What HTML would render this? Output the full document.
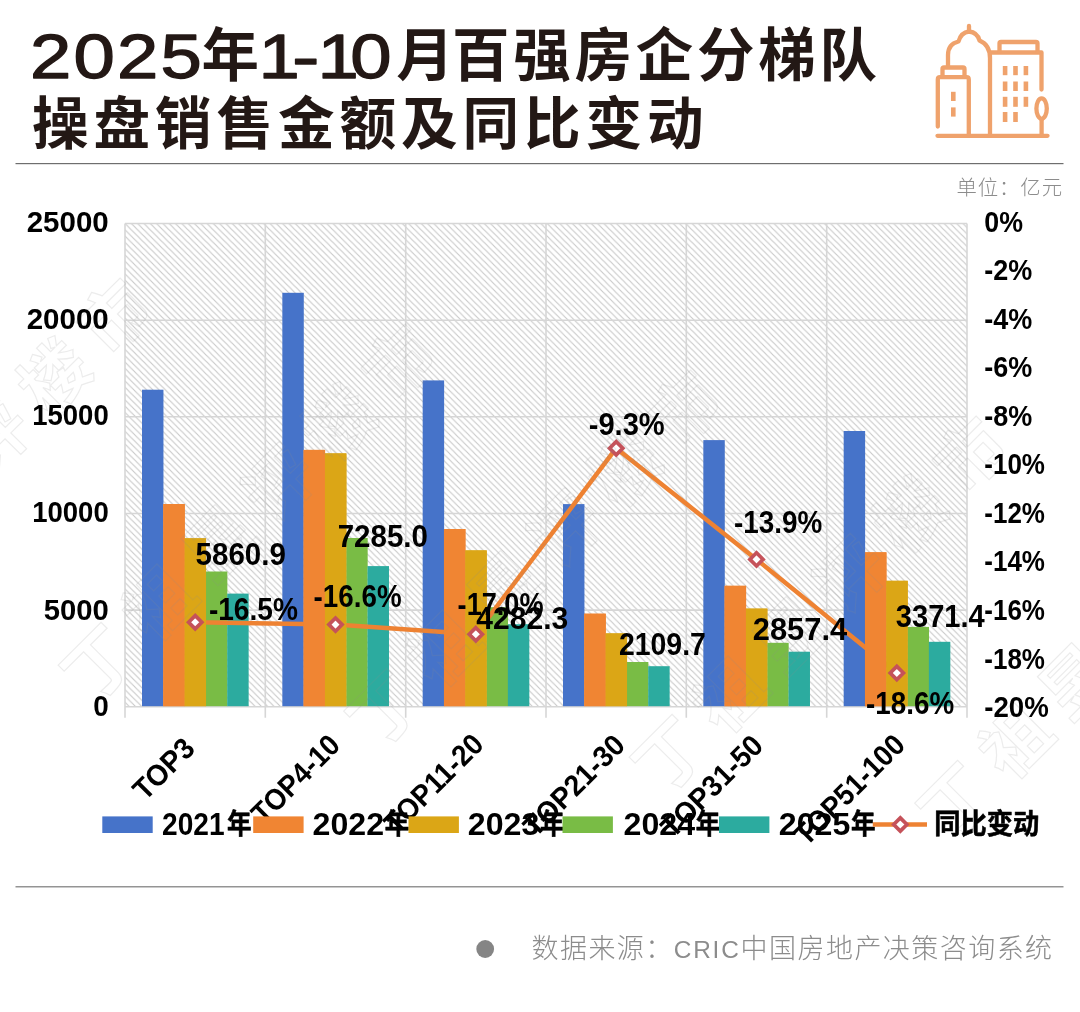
<!DOCTYPE html>
<html lang="zh-CN"><head><meta charset="utf-8"><title>2025年1-10月百强房企分梯队操盘销售金额及同比变动</title>
<style>html,body{margin:0;padding:0;background:#fff;}body{width:1080px;height:1012px;overflow:hidden;position:relative;font-family:"Liberation Sans", "Noto Sans CJK SC", sans-serif;}svg{position:absolute;left:0;top:0;display:block}
.ax{font-family:"Liberation Sans", "Noto Sans CJK SC", sans-serif;font-size:29.7px;fill:#000;font-weight:700}
.dl{font-family:"Liberation Sans", "Noto Sans CJK SC", sans-serif;font-size:31px;fill:#000;font-weight:700}
.ttl{font-family:"Liberation Sans", "Noto Sans CJK SC", sans-serif;fill:#231815;font-weight:700}
.tn{font-family:"Liberation Sans", "Noto Sans CJK SC", sans-serif;fill:#231815;font-weight:400;stroke:#231815;stroke-width:1.25px;stroke-linejoin:round}
.lg{font-family:"Liberation Sans", "Noto Sans CJK SC", sans-serif;fill:#000}
.gray{font-family:"Liberation Sans", "Noto Sans CJK SC", sans-serif;fill:#8c8c8c;font-weight:300}
</style></head><body>
<svg width="1080" height="1012" viewBox="0 0 1080 1012">
<defs>
<pattern id="hatch" width="6.3" height="6.3" patternUnits="userSpaceOnUse" patternTransform="translate(125,223.5)"><rect width="6.3" height="6.3" fill="#fff"/><path d="M-1.575,-1.575 L7.875,7.875 M-1.575,4.725 L1.575,7.875 M4.725,-1.575 L7.875,1.575" stroke="#c8c8c8" stroke-width="1.1" fill="none"/></pattern>
</defs>
<rect width="1080" height="1012" fill="#fff"/>
<g id="title">
<text class="tn" transform="translate(30.0,77.5) scale(1.170,1)" font-size="63.5" letter-spacing="1.90">2025</text>
<text class="ttl" x="201.5" y="76.0" font-size="57.5">年</text>
<text class="tn" transform="translate(258.5,77.5) scale(1.170,1)" font-size="63.5" letter-spacing="0.00">1</text>
<text class="tn" transform="translate(292.0,77.5) scale(1.300,1)" font-size="63.5" letter-spacing="0.00">-</text>
<text class="tn" transform="translate(317.5,77.5) scale(1.170,1)" font-size="63.5" letter-spacing="0.00">1</text>
<text class="tn" transform="translate(350.2,77.5) scale(1.170,1)" font-size="63.5" letter-spacing="0.00">0</text>
<text class="ttl" y="76.0" font-size="57.5" letter-spacing="3.75"><tspan x="396.3">月</tspan><tspan x="452.0">百强房企分梯队</tspan></text>
<text class="ttl" x="32" y="143.9" font-size="56.6" letter-spacing="4.9">操盘销售金额及同比变动</text>
</g>
<rect x="15.5" y="163" width="1048" height="1.2" fill="#6e6e6e"/>
<g id="icon" fill="none" stroke="#EFA26C" stroke-width="4.3" stroke-linecap="round" stroke-linejoin="round">
<path d="M937.5,135.8 H1047.5"/>
<path d="M937.8,126.5 V79.5 Q937.8,77.2 940,77.2 H966.5 Q968.8,77.2 968.8,79.5 V134"/>
<path d="M942.5,76.5 V69 Q942.5,67.5 944,67.5 H963 Q964.5,67.5 964.5,69 V76.5"/>
<path d="M948,66 V55 Q948,44 958.5,41.5 Q961,32.5 969,31.5 Q977.5,32.5 979.5,40.5 Q990,45 990,58 V134"/>
<path d="M969,26 V30"/>
<path d="M990,52.5 H1041.5 V89.5"/>
<path d="M999.5,51.5 V43.5 Q999.5,42 1001,42 H1036 Q1037.5,42 1037.5,43.5 V51.5"/>
<ellipse cx="1041.6" cy="108.6" rx="5.2" ry="10.2"/><path d="M1041.6,119.5 V134"/>
</g>
<g fill="#EFA26C">
<rect x="1002.8" y="66.0" width="4.6" height="9.2"/>
<rect x="1002.8" y="81.5" width="4.6" height="9.5"/>
<rect x="1002.8" y="96.8" width="4.6" height="10.0"/>
<rect x="1002.8" y="112.0" width="4.6" height="10.0"/>
<rect x="1013.2" y="66.0" width="4.6" height="9.2"/>
<rect x="1013.2" y="81.5" width="4.6" height="9.5"/>
<rect x="1013.2" y="96.8" width="4.6" height="10.0"/>
<rect x="1013.2" y="112.0" width="4.6" height="10.0"/>
<rect x="1023.6" y="66.0" width="4.6" height="9.2"/>
<rect x="1023.6" y="81.5" width="4.6" height="9.5"/>
<rect x="1023.6" y="96.8" width="4.6" height="10.0"/>
<rect x="951" y="91.8" width="4.6" height="9.2"/><rect x="951" y="107.4" width="4.6" height="9.2"/>
</g>
<text class="gray" x="956.5" y="195" font-size="20.4" letter-spacing="0.9">单位：亿元</text>
<g id="plot">
<rect x="125.0" y="223.5" width="842.0" height="483.3" fill="url(#hatch)"/>
<path d="M125.0,223.5 H967.0 M125.0,320.2 H967.0 M125.0,416.8 H967.0 M125.0,513.5 H967.0 M125.0,610.1 H967.0 M125.0,706.8 H967.0 M125.0,223.5 V717.8 M265.3,223.5 V717.8 M405.7,223.5 V717.8 M546.0,223.5 V717.8 M686.3,223.5 V717.8 M826.7,223.5 V717.8 M967.0,223.5 V717.8" stroke="#d6d6d6" stroke-width="1.6" fill="none"/>
<rect x="142.00" y="389.7" width="21.45" height="316.5" fill="#4673C9"/>
<rect x="163.30" y="504.0" width="21.45" height="202.2" fill="#F08533"/>
<rect x="184.60" y="538.3" width="21.45" height="167.9" fill="#DBA616"/>
<rect x="205.90" y="571.5" width="21.45" height="134.7" fill="#79BC45"/>
<rect x="227.20" y="593.6" width="21.45" height="112.6" fill="#2CAB9F"/>
<rect x="282.33" y="292.8" width="21.45" height="413.4" fill="#4673C9"/>
<rect x="303.63" y="449.9" width="21.45" height="256.3" fill="#F08533"/>
<rect x="324.93" y="453.4" width="21.45" height="252.8" fill="#DBA616"/>
<rect x="346.23" y="538.0" width="21.45" height="168.2" fill="#79BC45"/>
<rect x="367.53" y="566.1" width="21.45" height="140.1" fill="#2CAB9F"/>
<rect x="422.67" y="380.4" width="21.45" height="325.8" fill="#4673C9"/>
<rect x="443.97" y="529.0" width="21.45" height="177.2" fill="#F08533"/>
<rect x="465.27" y="550.4" width="21.45" height="155.8" fill="#DBA616"/>
<rect x="486.57" y="607.2" width="21.45" height="99.0" fill="#79BC45"/>
<rect x="507.87" y="624.2" width="21.45" height="82.0" fill="#2CAB9F"/>
<rect x="563.00" y="504.1" width="21.45" height="202.1" fill="#4673C9"/>
<rect x="584.30" y="613.7" width="21.45" height="92.5" fill="#F08533"/>
<rect x="605.60" y="633.4" width="21.45" height="72.8" fill="#DBA616"/>
<rect x="626.90" y="662.0" width="21.45" height="44.2" fill="#79BC45"/>
<rect x="648.20" y="666.2" width="21.45" height="40.0" fill="#2CAB9F"/>
<rect x="703.33" y="440.1" width="21.45" height="266.1" fill="#4673C9"/>
<rect x="724.63" y="585.8" width="21.45" height="120.4" fill="#F08533"/>
<rect x="745.93" y="608.6" width="21.45" height="97.6" fill="#DBA616"/>
<rect x="767.23" y="642.8" width="21.45" height="63.4" fill="#79BC45"/>
<rect x="788.53" y="651.7" width="21.45" height="54.5" fill="#2CAB9F"/>
<rect x="843.67" y="431.0" width="21.45" height="275.2" fill="#4673C9"/>
<rect x="864.97" y="552.3" width="21.45" height="153.9" fill="#F08533"/>
<rect x="886.27" y="580.8" width="21.45" height="125.4" fill="#DBA616"/>
<rect x="907.57" y="626.9" width="21.45" height="79.3" fill="#79BC45"/>
<rect x="928.87" y="641.8" width="21.45" height="64.4" fill="#2CAB9F"/>
<polyline points="195.2,622.2 335.5,624.6 475.8,634.3 616.2,448.2 756.5,559.4 896.8,673.0" fill="none" stroke="#EE8232" stroke-width="4.5" stroke-linejoin="round" stroke-linecap="round"/>
<rect x="163.30" y="504.0" width="21.45" height="202.2" fill="#F08533"/>
<rect x="184.60" y="538.3" width="21.45" height="167.9" fill="#DBA616"/>
<rect x="303.63" y="449.9" width="21.45" height="256.3" fill="#F08533"/>
<rect x="324.93" y="453.4" width="21.45" height="252.8" fill="#DBA616"/>
<rect x="443.97" y="529.0" width="21.45" height="177.2" fill="#F08533"/>
<rect x="465.27" y="550.4" width="21.45" height="155.8" fill="#DBA616"/>
<rect x="584.30" y="613.7" width="21.45" height="92.5" fill="#F08533"/>
<rect x="605.60" y="633.4" width="21.45" height="72.8" fill="#DBA616"/>
<rect x="724.63" y="585.8" width="21.45" height="120.4" fill="#F08533"/>
<rect x="745.93" y="608.6" width="21.45" height="97.6" fill="#DBA616"/>
<rect x="864.97" y="552.3" width="21.45" height="153.9" fill="#F08533"/>
<rect x="886.27" y="580.8" width="21.45" height="125.4" fill="#DBA616"/>
<path d="M195.2,615.6 l6.6,6.6 l-6.6,6.6 l-6.6,-6.6 Z" fill="#fff" stroke="#C5525A" stroke-width="3.7" stroke-linejoin="miter"/>
<path d="M335.5,618.0 l6.6,6.6 l-6.6,6.6 l-6.6,-6.6 Z" fill="#fff" stroke="#C5525A" stroke-width="3.7" stroke-linejoin="miter"/>
<path d="M475.8,627.7 l6.6,6.6 l-6.6,6.6 l-6.6,-6.6 Z" fill="#fff" stroke="#C5525A" stroke-width="3.7" stroke-linejoin="miter"/>
<path d="M616.2,441.6 l6.6,6.6 l-6.6,6.6 l-6.6,-6.6 Z" fill="#fff" stroke="#C5525A" stroke-width="3.7" stroke-linejoin="miter"/>
<path d="M756.5,552.8 l6.6,6.6 l-6.6,6.6 l-6.6,-6.6 Z" fill="#fff" stroke="#C5525A" stroke-width="3.7" stroke-linejoin="miter"/>
<path d="M896.8,666.4 l6.6,6.6 l-6.6,6.6 l-6.6,-6.6 Z" fill="#fff" stroke="#C5525A" stroke-width="3.7" stroke-linejoin="miter"/>
</g>
<g id="wm" font-family="'Liberation Sans', 'Noto Sans CJK SC', sans-serif" font-size="68" font-weight="700" fill="none" stroke="#8c8c8c" stroke-width="1.2" opacity="0.16">
<text transform="translate(92.7,705.0) rotate(-45)" letter-spacing="17">丁祖昱评楼市</text>
<text transform="translate(378.2,751.0) rotate(-45)" letter-spacing="17">丁祖昱评楼市</text>
<text transform="translate(663.7,797.0) rotate(-45)" letter-spacing="17">丁祖昱评楼市</text>
<text transform="translate(949.2,843.0) rotate(-45)" letter-spacing="17">丁祖昱评楼市</text>
<text transform="translate(-192.3,659.0) rotate(-45)" letter-spacing="17">丁祖昱评楼市</text>
</g>
<g id="yaxis" class="ax" text-anchor="end">
<text x="108.7" y="232.1" textLength="82.0" lengthAdjust="spacingAndGlyphs">25000</text>
<text x="108.7" y="328.5" textLength="82.0" lengthAdjust="spacingAndGlyphs">20000</text>
<text x="108.7" y="425.3" textLength="76.5" lengthAdjust="spacingAndGlyphs">15000</text>
<text x="108.7" y="522.4" textLength="76.5" lengthAdjust="spacingAndGlyphs">10000</text>
<text x="108.7" y="620.4" textLength="65.0" lengthAdjust="spacingAndGlyphs">5000</text>
<text x="108.7" y="716.3" textLength="15.5" lengthAdjust="spacingAndGlyphs">0</text>
</g>
<g id="y2axis" class="ax">
<text x="984.3" y="231.5" textLength="38.7" lengthAdjust="spacingAndGlyphs">0%</text>
<text x="984.3" y="280.1" textLength="48.0" lengthAdjust="spacingAndGlyphs">-2%</text>
<text x="984.3" y="328.6" textLength="48.0" lengthAdjust="spacingAndGlyphs">-4%</text>
<text x="984.3" y="377.1" textLength="48.0" lengthAdjust="spacingAndGlyphs">-6%</text>
<text x="984.3" y="425.7" textLength="48.0" lengthAdjust="spacingAndGlyphs">-8%</text>
<text x="984.3" y="474.2" textLength="60.7" lengthAdjust="spacingAndGlyphs">-10%</text>
<text x="984.3" y="522.8" textLength="60.7" lengthAdjust="spacingAndGlyphs">-12%</text>
<text x="984.3" y="571.3" textLength="60.7" lengthAdjust="spacingAndGlyphs">-14%</text>
<text x="984.3" y="619.9" textLength="60.7" lengthAdjust="spacingAndGlyphs">-16%</text>
<text x="984.3" y="668.5" textLength="60.7" lengthAdjust="spacingAndGlyphs">-18%</text>
<text x="984.3" y="717.0" textLength="64.5" lengthAdjust="spacingAndGlyphs">-20%</text>
</g>
<g id="dlabels" class="dl">
<text x="195.6" y="565.3" textLength="90.3" lengthAdjust="spacingAndGlyphs">5860.9</text>
<text x="337.7" y="546.8" textLength="90.3" lengthAdjust="spacingAndGlyphs">7285.0</text>
<text x="476.3" y="629.0" textLength="92.0" lengthAdjust="spacingAndGlyphs">4282.3</text>
<text x="618.9" y="655.0" textLength="87.0" lengthAdjust="spacingAndGlyphs">2109.7</text>
<text x="752.8" y="639.5" textLength="94.4" lengthAdjust="spacingAndGlyphs">2857.4</text>
<text x="895.8" y="627.0" textLength="89.0" lengthAdjust="spacingAndGlyphs">3371.4</text>
<text x="208.9" y="619.8" textLength="89.0" lengthAdjust="spacingAndGlyphs">-16.5%</text>
<text x="313.6" y="607.0" textLength="88.0" lengthAdjust="spacingAndGlyphs">-16.6%</text>
<text x="457.6" y="614.9" textLength="86.0" lengthAdjust="spacingAndGlyphs">-17.0%</text>
<text x="588.7" y="434.8" textLength="76.0" lengthAdjust="spacingAndGlyphs">-9.3%</text>
<text x="733.9" y="532.6" textLength="88.3" lengthAdjust="spacingAndGlyphs">-13.9%</text>
<text x="866.1" y="714.0" textLength="88.0" lengthAdjust="spacingAndGlyphs">-18.6%</text>
</g>
<g id="xlabels" class="ax">
<text transform="translate(196.6,750.2) rotate(-45)" x="-73.0" y="0" textLength="73.0" lengthAdjust="spacingAndGlyphs">TOP3</text>
<text transform="translate(341.9,747.0) rotate(-45)" x="-111.0" y="0" textLength="111.0" lengthAdjust="spacingAndGlyphs">TOP4-10</text>
<text transform="translate(485.3,746.0) rotate(-45)" x="-126.0" y="0" textLength="126.0" lengthAdjust="spacingAndGlyphs">TOP11-20</text>
<text transform="translate(626.8,747.0) rotate(-45)" x="-129.0" y="0" textLength="129.0" lengthAdjust="spacingAndGlyphs">TOP21-30</text>
<text transform="translate(765.0,747.3) rotate(-45)" x="-130.0" y="0" textLength="130.0" lengthAdjust="spacingAndGlyphs">TOP31-50</text>
<text transform="translate(906.8,746.6) rotate(-45)" x="-142.0" y="0" textLength="142.0" lengthAdjust="spacingAndGlyphs">TOP51-100</text>
</g>
<g id="legend">
<rect x="102.3" y="816.4" width="50.4" height="16.6" fill="#4673C9"/>
<text class="lg" x="162.0" y="834.8" font-size="32" font-weight="700" textLength="62.5" lengthAdjust="spacingAndGlyphs">2021</text>
<text class="lg" x="227.0" y="833.6" font-size="28" font-weight="700" stroke="#000" stroke-width=".6" textLength="24.6" lengthAdjust="spacingAndGlyphs">年</text>
<rect x="253.2" y="816.4" width="50.4" height="16.6" fill="#F08533"/>
<text class="lg" x="312.5" y="834.8" font-size="32" font-weight="700" textLength="71.5" lengthAdjust="spacingAndGlyphs">2022</text>
<text class="lg" x="384.8" y="833.6" font-size="28" font-weight="700" stroke="#000" stroke-width=".6" textLength="24.6" lengthAdjust="spacingAndGlyphs">年</text>
<rect x="408.5" y="816.4" width="50.4" height="16.6" fill="#DBA616"/>
<text class="lg" x="467.8" y="834.8" font-size="32" font-weight="700" textLength="71.5" lengthAdjust="spacingAndGlyphs">2023</text>
<text class="lg" x="540.0" y="833.6" font-size="28" font-weight="700" stroke="#000" stroke-width=".6" textLength="24.6" lengthAdjust="spacingAndGlyphs">年</text>
<rect x="562.5" y="816.4" width="50.4" height="16.6" fill="#79BC45"/>
<text class="lg" x="623.6" y="834.8" font-size="32" font-weight="700" textLength="71.5" lengthAdjust="spacingAndGlyphs">2024</text>
<text class="lg" x="695.8" y="833.6" font-size="28" font-weight="700" stroke="#000" stroke-width=".6" textLength="24.6" lengthAdjust="spacingAndGlyphs">年</text>
<rect x="719.0" y="816.4" width="50.4" height="16.6" fill="#2CAB9F"/>
<text class="lg" x="778.8" y="834.8" font-size="32" font-weight="700" textLength="71.5" lengthAdjust="spacingAndGlyphs">2025</text>
<text class="lg" x="851.0" y="833.6" font-size="28" font-weight="700" stroke="#000" stroke-width=".6" textLength="24.6" lengthAdjust="spacingAndGlyphs">年</text>
<path d="M872.8,824.5 H927" stroke="#EE8232" stroke-width="4.5"/>
<path d="M900.3,817.9 l6.6,6.6 l-6.6,6.6 l-6.6,-6.6 Z" fill="#fff" stroke="#C5525A" stroke-width="3.7"/>
<text class="lg" x="934.3" y="834" font-size="28" font-weight="700" stroke="#000" stroke-width=".6" textLength="105" lengthAdjust="spacingAndGlyphs">同比变动</text>
</g>
<rect x="15.5" y="886.2" width="1048" height="1.2" fill="#7a7a7a"/>
<circle cx="485.2" cy="949" r="8.9" fill="#858585"/>
<text class="gray" x="531.5" y="958.4" font-size="27" letter-spacing="1.45">数据来源：<tspan font-size="24.4" letter-spacing="1.8">CRIC</tspan>中国房地产决策咨询系统</text>
</svg>
</body></html>
